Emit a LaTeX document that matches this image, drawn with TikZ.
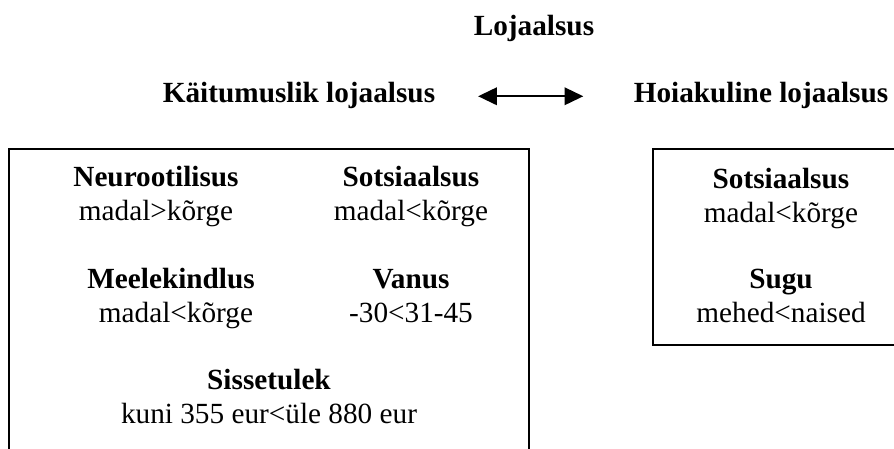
\documentclass[tikz,border=0pt]{standalone}
\usepackage{fontspec}
\setmainfont{Liberation Serif}
\usetikzlibrary{arrows.meta}

\begin{document}
\begin{tikzpicture}[x=0.4pt, y=-0.4pt,
    lbl/.style={inner sep=0pt, anchor=base, font=\fontsize{11.7}{13.3}\selectfont\bfseries},
    item/.style={inner sep=0pt, anchor=base, align=center, font=\fontsize{11.7}{13.3}\selectfont},
    frame/.style={line width=0.8pt}]
    \useasboundingbox (0,0) rectangle (894,448);
    \clip (0,0) rectangle (894,448);

    \node[lbl] (loj) at (534,35) {Lojaalsus};
    \node[lbl] (kait) at (299,102) {Käitumuslik lojaalsus};
    \node[lbl] (hoiak) at (761,102) {Hoiakuline lojaalsus};
    \draw[line width=0.8pt, {Triangle[length=7.5pt,width=7pt]}-{Triangle[length=7.5pt,width=7pt]},
      shorten <=17pt, shorten >=20pt] (kait.mid east) -- (hoiak.mid west);

    % kaitumuslik lojaalsus
    \draw[frame] (9,149) rectangle (529,470);
    \node[item] (neur) at (156,220) {\textbf{Neurootilisus}\\madal>kõrge};
    \node[item] (sots1) at (411,220) {\textbf{Sotsiaalsus}\\madal<kõrge};
    \node[item] (meel) at (171,322) {\textbf{Meelekindlus}\\\hspace*{4pt}madal<kõrge};
    \node[item] (van) at (411,322) {\textbf{Vanus}\\-30<31-45};
    \node[item] (siss) at (269,423) {\textbf{Sissetulek}\\kuni 355 eur<üle 880 eur};

    % hoiakuline lojaalsus
    \draw[frame] (653,149) rectangle (910,345);
    \node[item] (sots2) at (781,222) {\textbf{Sotsiaalsus}\\madal<kõrge};
    \node[item] (sugu) at (781,322) {\textbf{Sugu}\\mehed<naised};
\end{tikzpicture}
\end{document}
